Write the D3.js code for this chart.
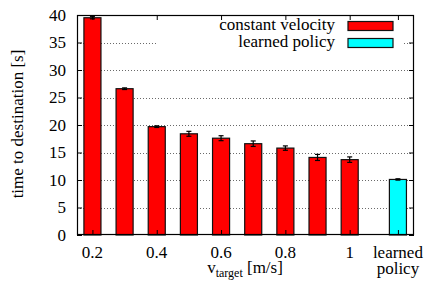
<!DOCTYPE html>
<html>
<head>
<meta charset="utf-8">
<script src="https://cdn.jsdelivr.net/npm/d3@7"></script>
<style>
  body { margin: 0; background: #fff; }
</style>
</head>
<body>
<svg id="chart" width="425" height="291"></svg>
<script>
// positions on the x axis, the last one is the learned policy bar
const velocities = [0.2, 0.3, 0.4, 0.5, 0.6, 0.7, 0.8, 0.9, 1.0];
const constTimes = [39.5, 26.6, 19.7, 18.4, 17.6, 16.6, 15.8, 14.1, 13.7];
const constErrors = [0.2, 0.15, 0.15, 0.45, 0.45, 0.5, 0.4, 0.55, 0.5];
const learnedPos = 1.15;
const learnedTime = 10.1;
const learnedError = 0.12;
const yTicks = [0, 5, 10, 15, 20, 25, 30, 35, 40];
const xTicks = [0.2, 0.4, 0.6, 0.8, 1.0];
const legendLabels = ['constant velocity', 'learned policy'];

const serif = '"Liberation Serif", "Times New Roman", Times, "DejaVu Serif", serif';
const fs = 17;
const margin = {top: 15, right: 11, bottom: 56, left: 77};
const W = 425, H = 291;

var svg = d3.select('#chart');
var g = svg.append('g').attr('transform', 'translate(' + margin.left + ',' + margin.top + ')');
var w = W - margin.left - margin.right,
    h = H - margin.top - margin.bottom;

var xScale = d3.scaleLinear().domain([0.152, 1.2]).range([0, w]);
var yScale = d3.scaleLinear().domain([0, 40]).range([h, 0]);

// 水平グリッド
g.append('g').selectAll('line')
  .data(yTicks.filter(function(d) { return d > 0 && d < 40; }))
  .enter().append('line')
  .attr('x1', 0).attr('x2', w)
  .attr('y1', function(d) { return Math.round(yScale(d)) + 0.5; })
  .attr('y2', function(d) { return Math.round(yScale(d)) + 0.5; })
  .attr('stroke', '#444')
  .attr('stroke-width', 0.8)
  .attr('stroke-dasharray', '1,2');

var bw = 0.53 * (xScale(0.3) - xScale(0.2));

var bars = velocities.map(function(v, i) {
  return {x: v, y: constTimes[i], e: constErrors[i], fill: '#ff0000'};
});
bars.push({x: learnedPos, y: learnedTime, e: learnedError, fill: '#00ffff'});

g.append('g').selectAll('rect')
  .data(bars)
  .enter().append('rect')
  .attr('x', function(d) { return xScale(d.x) - bw / 2; })
  .attr('y', function(d) { return yScale(d.y); })
  .attr('width', bw)
  .attr('height', function(d) { return h - yScale(d.y); })
  .attr('fill', function(d) { return d.fill; })
  .attr('stroke', '#111')
  .attr('stroke-width', 1.2);

// エラーバー
var eb = g.append('g').selectAll('g').data(bars).enter().append('g')
  .attr('stroke', '#000').attr('stroke-width', 1.2);
eb.append('line')
  .attr('x1', function(d) { return xScale(d.x); })
  .attr('x2', function(d) { return xScale(d.x); })
  .attr('y1', function(d) { return yScale(d.y + d.e); })
  .attr('y2', function(d) { return yScale(d.y - d.e); });
eb.append('line')
  .attr('x1', function(d) { return xScale(d.x) - 2.5; })
  .attr('x2', function(d) { return xScale(d.x) + 2.5; })
  .attr('y1', function(d) { return yScale(d.y + d.e); })
  .attr('y2', function(d) { return yScale(d.y + d.e); });
eb.append('line')
  .attr('x1', function(d) { return xScale(d.x) - 2.5; })
  .attr('x2', function(d) { return xScale(d.x) + 2.5; })
  .attr('y1', function(d) { return yScale(d.y - d.e); })
  .attr('y2', function(d) { return yScale(d.y - d.e); });

// 凡例
var legend = g.append('g');
legend.append('rect')
  .attr('x', 80).attr('y', 1).attr('width', 247).attr('height', 40)
  .attr('fill', '#fff');
legendLabels.forEach(function(label, i) {
  var ly = 15 + i * 17;
  legend.append('text')
    .attr('x', 258).attr('y', ly)
    .attr('text-anchor', 'end')
    .attr('font-size', fs)
    .text(label);
  legend.append('rect')
    .attr('x', 271).attr('y', ly - 8.5).attr('width', 45).attr('height', 9)
    .attr('fill', i === 0 ? '#ff0000' : '#00ffff')
    .attr('stroke', '#111').attr('stroke-width', 1.2);
});

// 軸
var yAxis = d3.axisLeft(yScale).tickValues(yTicks).tickSize(-5).tickPadding(11);
var yAxisR = d3.axisRight(yScale).tickValues(yTicks).tickSize(-5).tickFormat('');
var allX = xTicks.concat([learnedPos]);
var xAxis = d3.axisBottom(xScale).tickValues(allX).tickSize(-5).tickFormat('');
var xAxisT = d3.axisTop(xScale).tickValues(allX).tickSize(-5).tickFormat('');

var ya = g.append('g').call(yAxis);
ya.attr('font-family', null).attr('font-size', null);
ya.selectAll('text').attr('font-size', fs);
g.append('g').attr('transform', 'translate(' + w + ',0)').call(yAxisR);
g.append('g').attr('transform', 'translate(0,' + h + ')').call(xAxis);
g.append('g').call(xAxisT);
g.selectAll('.domain').remove();
g.selectAll('.tick line').attr('stroke', '#000');

g.append('rect')
  .attr('x', 0.5).attr('y', 0.5).attr('width', w - 1).attr('height', h - 1)
  .attr('fill', 'none').attr('stroke', '#000').attr('stroke-width', 1.2);

// x目盛りラベル
g.append('g').selectAll('text')
  .data(xTicks)
  .enter().append('text')
  .attr('x', function(d) { return xScale(d); })
  .attr('y', h + 23)
  .attr('text-anchor', 'middle')
  .attr('font-size', fs)
  .text(function(d) { return d === 1 ? '1' : d3.format('.1f')(d); });
g.append('text')
  .attr('x', xScale(learnedPos)).attr('y', h + 23)
  .attr('text-anchor', 'middle').attr('font-size', fs)
  .text('learned');
g.append('text')
  .attr('x', xScale(learnedPos)).attr('y', h + 39)
  .attr('text-anchor', 'middle').attr('font-size', fs)
  .text('policy');

// 軸タイトル
var xt = svg.append('text')
  .attr('x', 245).attr('y', 273)
  .attr('text-anchor', 'middle')
  .attr('font-size', fs);
xt.append('tspan').text('v');
xt.append('tspan').attr('font-size', 12).attr('dy', 4).text('target');
xt.append('tspan').attr('dy', -4).text(' [m/s]');

svg.append('text')
  .attr('transform', 'translate(23,124) rotate(-90)')
  .attr('text-anchor', 'middle')
  .attr('font-size', fs)
  .text('time to destination [s]');

svg.selectAll('text').style('font-family', serif).style('fill', '#000');
</script>
</body>
</html>
